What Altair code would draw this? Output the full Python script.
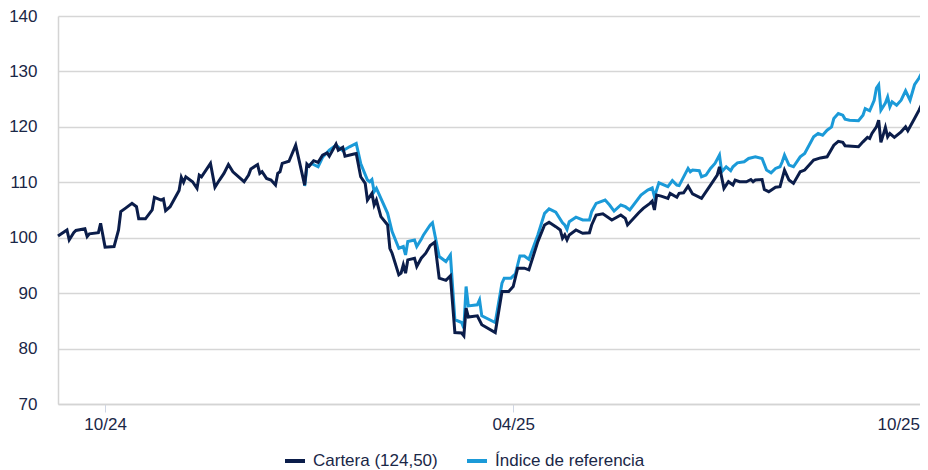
import altair as alt
import pandas as pd

# ---- data ----
cartera_dates = [
    "2024-09-10", "2024-09-14", "2024-09-15", "2024-09-17", "2024-09-18", "2024-09-22", "2024-09-23",
    "2024-09-24", "2024-09-28", "2024-09-29", "2024-10-01", "2024-10-05", "2024-10-07", "2024-10-08",
    "2024-10-10", "2024-10-13", "2024-10-15", "2024-10-16", "2024-10-19", "2024-10-22", "2024-10-23",
    "2024-10-26", "2024-10-27", "2024-10-28", "2024-10-30", "2024-11-03", "2024-11-04", "2024-11-05",
    "2024-11-06", "2024-11-09", "2024-11-11", "2024-11-12", "2024-11-13", "2024-11-17", "2024-11-19",
    "2024-11-21", "2024-11-23", "2024-11-25", "2024-11-27", "2024-12-02", "2024-12-04", "2024-12-05",
    "2024-12-08", "2024-12-09", "2024-12-10", "2024-12-12", "2024-12-14", "2024-12-16", "2024-12-17",
    "2024-12-18", "2024-12-19", "2024-12-22", "2024-12-25", "2024-12-26", "2024-12-29", "2024-12-30",
    "2024-12-31", "2025-01-02", "2025-01-04", "2025-01-06", "2025-01-08", "2025-01-09", "2025-01-12",
    "2025-01-13", "2025-01-15", "2025-01-16", "2025-01-20", "2025-01-21", "2025-01-23", "2025-01-25",
    "2025-01-26", "2025-01-28", "2025-01-29", "2025-01-30", "2025-02-01", "2025-02-04", "2025-02-05",
    "2025-02-06", "2025-02-09", "2025-02-10", "2025-02-11", "2025-02-12", "2025-02-13", "2025-02-16",
    "2025-02-17", "2025-02-19", "2025-02-21", "2025-02-23", "2025-02-25", "2025-02-27", "2025-03-02",
    "2025-03-04", "2025-03-06", "2025-03-09", "2025-03-10", "2025-03-11", "2025-03-12", "2025-03-16",
    "2025-03-18", "2025-03-24", "2025-03-27", "2025-03-30", "2025-04-01", "2025-04-03", "2025-04-06",
    "2025-04-08", "2025-04-12", "2025-04-15", "2025-04-17", "2025-04-20", "2025-04-22", "2025-04-23",
    "2025-04-24", "2025-04-25", "2025-04-26", "2025-04-29", "2025-05-02", "2025-05-05", "2025-05-06",
    "2025-05-08", "2025-05-11", "2025-05-15", "2025-05-19", "2025-05-21", "2025-05-22", "2025-05-27",
    "2025-05-29", "2025-06-01", "2025-06-02", "2025-06-03", "2025-06-04", "2025-06-06", "2025-06-09",
    "2025-06-10", "2025-06-13", "2025-06-14", "2025-06-16", "2025-06-18", "2025-06-20", "2025-06-24",
    "2025-06-28", "2025-07-01", "2025-07-02", "2025-07-04", "2025-07-06", "2025-07-08", "2025-07-09",
    "2025-07-11", "2025-07-14", "2025-07-16", "2025-07-17", "2025-07-18", "2025-07-21", "2025-07-22",
    "2025-07-24", "2025-07-27", "2025-07-29", "2025-07-31", "2025-08-02", "2025-08-04", "2025-08-07",
    "2025-08-09", "2025-08-13", "2025-08-16", "2025-08-19", "2025-08-22", "2025-08-24", "2025-08-26",
    "2025-08-27", "2025-09-02", "2025-09-04", "2025-09-06", "2025-09-07", "2025-09-08", "2025-09-10",
    "2025-09-11", "2025-09-12", "2025-09-13", "2025-09-14", "2025-09-15", "2025-09-16", "2025-09-18",
    "2025-09-21", "2025-09-23", "2025-09-24", "2025-09-27", "2025-09-29", "2025-09-30", "2025-10-02",
    "2025-10-03",
]
cartera_values = [
    100.3, 101.4, 99.6, 100.9, 101.3, 101.6, 100.2,
    100.7, 100.9, 102.6, 98.3, 98.4, 101.4, 104.7,
    105.3, 106.2, 105.6, 103.4, 103.4, 105.0, 107.3,
    106.8, 107.0, 104.9, 105.6, 108.5, 110.9, 110.0,
    111.0, 110.1, 108.9, 111.3, 111.0, 113.4, 109.1,
    110.4, 111.6, 113.2, 111.9, 110.1, 111.3, 112.4,
    113.2, 111.6, 111.9, 110.7, 110.4, 109.5, 111.6,
    111.9, 113.4, 113.8, 116.7, 114.9, 109.5, 113.3,
    112.9, 113.9, 113.6, 114.9, 115.3, 114.7, 116.9,
    115.8, 116.3, 114.7, 115.1, 115.2, 111.0, 109.8,
    106.8, 108.0, 105.9, 106.8, 103.8, 102.3, 98.1,
    97.2, 93.3, 93.6, 95.1, 93.6, 96.0, 96.3,
    94.8, 96.3, 97.2, 98.6, 99.2, 92.7, 92.3,
    93.1, 82.9, 82.8, 82.3, 87.3, 85.7, 85.9,
    84.3, 82.9, 90.3, 90.3, 91.2, 94.5, 94.5,
    94.2, 99.3, 102.3, 102.8, 102.0, 101.4, 99.9,
    100.5, 99.6, 100.5, 101.4, 100.8, 100.9, 102.3,
    104.1, 104.3, 103.2, 104.1, 103.5, 102.3, 104.5,
    105.3, 106.2, 106.6, 105.0, 107.7, 107.5, 107.1,
    108.0, 107.3, 108.0, 108.1, 109.3, 107.9, 107.1,
    109.5, 111.3, 112.8, 108.9, 110.1, 109.5, 110.4,
    110.1, 110.1, 110.5, 110.1, 110.4, 110.5, 108.7,
    108.3, 109.1, 109.2, 112.2, 110.4, 109.8, 111.9,
    112.2, 114.0, 114.4, 114.6, 116.7, 117.4, 117.2,
    116.6, 116.4, 117.3, 118.1, 117.9, 118.8, 120.0,
    121.2, 117.2, 118.5, 119.9, 118.2, 118.8, 118.1,
    119.1, 120.0, 119.3, 121.5, 123.0, 123.9, 124.2,
    124.0,
]

indice_dates = [
    "2024-12-29", "2024-12-30", "2025-01-01", "2025-01-04", "2025-01-06", "2025-01-09", "2025-01-12",
    "2025-01-15", "2025-01-18", "2025-01-21", "2025-01-23", "2025-01-26", "2025-01-27", "2025-01-28",
    "2025-01-29", "2025-01-30", "2025-02-04", "2025-02-06", "2025-02-09", "2025-02-11", "2025-02-12",
    "2025-02-13", "2025-02-16", "2025-02-17", "2025-02-19", "2025-02-20", "2025-02-23", "2025-02-24",
    "2025-02-27", "2025-03-02", "2025-03-04", "2025-03-06", "2025-03-09", "2025-03-10", "2025-03-11",
    "2025-03-12", "2025-03-16", "2025-03-17", "2025-03-18", "2025-03-24", "2025-03-27", "2025-03-28",
    "2025-03-31", "2025-04-02", "2025-04-04", "2025-04-06", "2025-04-08", "2025-04-12", "2025-04-15",
    "2025-04-17", "2025-04-20", "2025-04-23", "2025-04-24", "2025-04-25", "2025-04-26", "2025-04-29",
    "2025-05-02", "2025-05-05", "2025-05-06", "2025-05-08", "2025-05-12", "2025-05-14", "2025-05-16",
    "2025-05-19", "2025-05-21", "2025-05-23", "2025-05-28", "2025-05-31", "2025-06-02", "2025-06-03",
    "2025-06-05", "2025-06-09", "2025-06-11", "2025-06-13", "2025-06-14", "2025-06-18", "2025-06-19",
    "2025-06-20", "2025-06-23", "2025-06-24", "2025-06-26", "2025-06-28", "2025-06-30", "2025-07-02",
    "2025-07-03", "2025-07-05", "2025-07-07", "2025-07-08", "2025-07-10", "2025-07-13", "2025-07-15",
    "2025-07-18", "2025-07-21", "2025-07-23", "2025-07-25", "2025-07-27", "2025-07-29", "2025-07-30",
    "2025-07-31", "2025-08-02", "2025-08-04", "2025-08-07", "2025-08-09", "2025-08-13", "2025-08-15",
    "2025-08-17", "2025-08-19", "2025-08-21", "2025-08-22", "2025-08-24", "2025-08-26", "2025-08-27",
    "2025-08-29", "2025-09-02", "2025-09-04", "2025-09-05", "2025-09-07", "2025-09-09", "2025-09-10",
    "2025-09-11", "2025-09-12", "2025-09-14", "2025-09-15", "2025-09-16", "2025-09-17", "2025-09-19",
    "2025-09-21", "2025-09-23", "2025-09-25", "2025-09-27", "2025-09-29", "2025-10-01", "2025-10-02",
    "2025-10-03",
]
indice_values = [
    109.3, 112.7, 113.4, 112.8, 114.5, 115.8, 116.7,
    115.7, 116.4, 117.0, 113.4, 110.4, 110.1, 110.5,
    108.3, 108.9, 104.4, 101.1, 98.1, 98.4, 96.9,
    99.3, 99.6, 98.4, 99.7, 100.5, 102.3, 102.7,
    96.6, 95.7, 96.9, 85.2, 84.7, 83.7, 91.2,
    87.7, 87.9, 88.8, 85.9, 84.7, 91.8, 92.7,
    92.7, 93.5, 96.7, 96.7, 96.1, 100.5, 104.4,
    105.2, 104.6, 102.7, 102.3, 101.5, 102.9, 103.7,
    103.2, 103.2, 104.7, 106.2, 106.8, 105.9, 104.8,
    105.9, 105.6, 105.0, 107.7, 108.6, 109.0, 107.4,
    109.9, 109.2, 110.3, 109.5, 109.4, 112.5, 111.9,
    112.2, 112.1, 111.0, 111.3, 112.5, 113.4, 114.9,
    111.9, 112.8, 112.1, 112.8, 113.5, 113.7, 114.3,
    114.6, 114.3, 112.2, 111.7, 112.5, 112.8, 113.7,
    114.9, 113.1, 112.8, 114.6, 115.2, 118.2, 118.8,
    118.5, 119.4, 120.0, 121.5, 122.4, 122.1, 121.4,
    121.2, 121.1, 122.1, 123.3, 122.9, 124.8, 127.0,
    127.6, 123.0, 124.3, 125.4, 123.6, 124.5, 123.9,
    124.8, 126.5, 124.8, 127.6, 128.8, 130.3, 131.0,
    130.3,
]

series_names = ["Cartera (124,50)", "Índice de referencia"]
series_colors = ["#0b1d4a", "#1b9ad8"]
y_ticks = [70, 80, 90, 100, 110, 120, 130, 140]
x_tick_dates = [(2024, 10, 1), (2025, 4, 1), (2025, 10, 1)]
x_domain = [(2024, 9, 10), (2025, 10, 3)]

# ---- build tables ----
df_c = pd.DataFrame({"fecha": cartera_dates, "valor": cartera_values, "serie": series_names[0]})
df_i = pd.DataFrame({"fecha": indice_dates, "valor": indice_values, "serie": series_names[1]})

TEXT = "#1a2747"
FONT = "Liberation Sans"
FS = 17


def dt(t):
    return alt.DateTime(year=t[0], month=t[1], date=t[2], utc=True)


x_enc = alt.X(
    "fecha:T",
    title=None,
    scale=alt.Scale(type="utc", domain=[dt(t) for t in x_domain]),
    axis=alt.Axis(
        values=[dt(t) for t in x_tick_dates],
        format="%m/%y",
        grid=False,
        ticks=True,
        tickSize=8,
        tickColor="#cfd6e4",
        tickWidth=1,
        domain=True,
        domainColor="#d4d4d4",
        domainWidth=1.5,
        labelPadding=4,
        labelFlush=10,
        labelFlushOffset=-4,
        labelFont=FONT,
        labelFontSize=FS,
        labelColor=TEXT,
    ),
)
y_enc = alt.Y(
    "valor:Q",
    title=None,
    scale=alt.Scale(domain=[70, 140], nice=False, zero=False),
    axis=alt.Axis(
        values=y_ticks,
        ticks=False,
        domain=True,
        domainColor="#d4d4d4",
        domainWidth=1.5,
        grid=True,
        gridColor="#d6d6d6",
        gridWidth=1.5,
        labelPadding=21,
        labelFont=FONT,
        labelFontSize=FS,
        labelColor=TEXT,
    ),
)
color_enc = alt.Color(
    "serie:N",
    scale=alt.Scale(domain=series_names, range=series_colors),
    legend=alt.Legend(
        title=None,
        orient="none",
        legendX=225,
        legendY=433,
        direction="horizontal",
        symbolType="stroke",
        symbolSize=400,
        symbolStrokeWidth=4,
        labelFont=FONT,
        labelFontSize=FS,
        labelColor=TEXT,
        labelOffset=6,
        columnPadding=21,
    ),
)

indice_line = alt.Chart(df_i).mark_line(strokeWidth=3).encode(x=x_enc, y=y_enc, color=color_enc)
cartera_line = alt.Chart(df_c).mark_line(strokeWidth=3).encode(x=x_enc, y=y_enc, color=color_enc)

chart = (
    alt.layer(indice_line, cartera_line)
    .properties(
        width=870,
        height=388,
        autosize=alt.AutoSizeParams(type="none"),
        padding={"left": 50, "top": 8, "right": -8, "bottom": 66},
        background="white",
    )
    .configure_view(strokeWidth=0)
)

chart.save("out.html", embed_options={"renderer": "svg", "actions": False})
